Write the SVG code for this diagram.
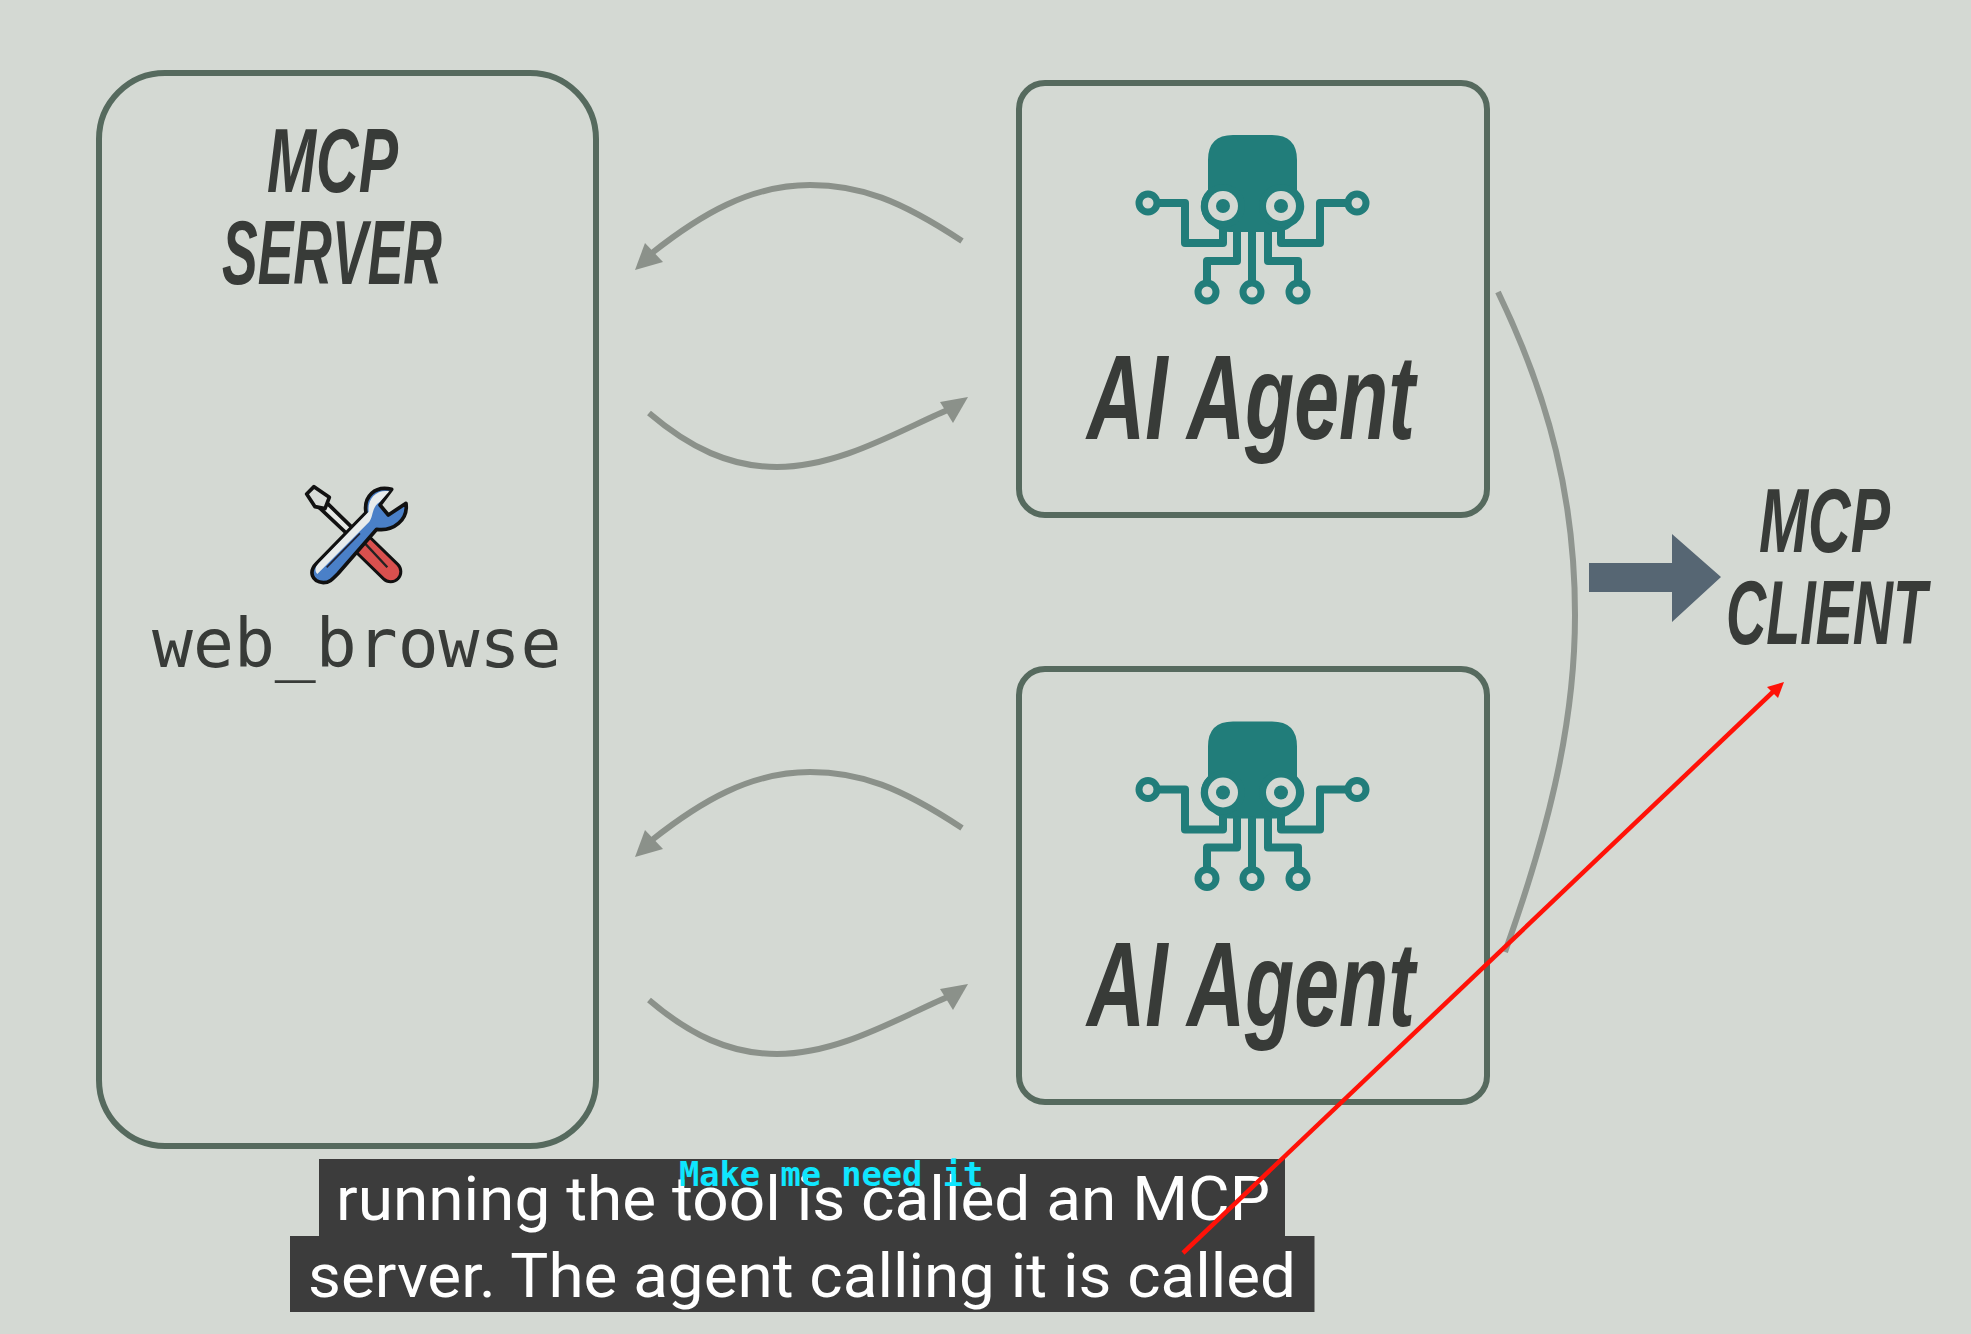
<svg xmlns="http://www.w3.org/2000/svg" xmlns:xlink="http://www.w3.org/1999/xlink" width="1971" height="1334" viewBox="0 0 1971 1334">
<style>
.box{fill:none;stroke:#566a5e;stroke-width:6}
.cond{font-family:"Liberation Sans",Arial,sans-serif;font-weight:700;font-style:italic;fill:#383b38}
.mono{font-family:"DejaVu Sans Mono",monospace;font-size:68px;fill:#383b38}
.flow{fill:none;stroke:#8b918a;stroke-width:6}
.head{fill:#8b918a}
.leg{fill:none;stroke:#217d7a;stroke-width:8;stroke-linejoin:round}
.pad{fill:#d4d9d3;stroke:#217d7a;stroke-width:7}
.cap{fill:#3c3c3c}
.captxt{font-family:Roboto,"Liberation Sans",sans-serif;font-size:62px;fill:#fff}
.sub{font-family:"DejaVu Sans Mono",monospace;font-weight:700;font-size:33.7px;fill:#0fe6ff}
</style>
<defs>
<g id="octopus">
<path d="M1208,160 Q1208,135 1233,135 L1272,135 Q1297,135 1297,160 L1297,190 A22,22 0 0 1 1292,226 Q1285,232 1275,232 L1230,232 Q1220,232 1213,226 A22,22 0 0 1 1208,190 Z" fill="#217d7a"/>
<circle cx="1223" cy="206" r="22" fill="#217d7a"/>
<circle cx="1281" cy="206" r="22" fill="#217d7a"/>
<circle cx="1223" cy="206" r="15" fill="#d4d9d3"/>
<circle cx="1281" cy="206" r="15" fill="#d4d9d3"/>
<circle cx="1223" cy="206" r="7" fill="#217d7a"/>
<circle cx="1281" cy="206" r="7" fill="#217d7a"/>
<path class="leg" d="M1157,203H1185V243H1223V228"/>
<path class="leg" d="M1347,203H1320V243H1281V228"/>
<path class="leg" d="M1207,282V261H1237V230"/>
<path class="leg" d="M1252,282V230"/>
<path class="leg" d="M1298,282V261H1268V230"/>
<circle class="pad" cx="1148" cy="203" r="9"/>
<circle class="pad" cx="1357" cy="203" r="9"/>
<circle class="pad" cx="1207" cy="292" r="9"/>
<circle class="pad" cx="1252" cy="292" r="9"/>
<circle class="pad" cx="1298" cy="292" r="9"/>
</g>
</defs>
<rect width="1971" height="1334" fill="#d4d9d3"/>

<g id="mcp-server">
<rect class="box" x="99" y="73" width="497" height="1073" rx="66"/>
<text class="cond" x="267" y="192" font-size="91" textLength="131" lengthAdjust="spacingAndGlyphs">MCP</text>
<text class="cond" x="222" y="284" font-size="91" textLength="220" lengthAdjust="spacingAndGlyphs">SERVER</text>
<g id="tools-icon" transform="translate(280,470) scale(0.3333)">
<path d="M140,98L222,178L205,195L118,113Z" fill="#e6e9e6" stroke="#111" stroke-width="11" stroke-linejoin="round"/>
<path d="M102,50L148,82L135,116L105,110L80,72Z" fill="#d8dcd8" stroke="#111" stroke-width="11" stroke-linejoin="round"/>
<path d="M250,225L332,305" stroke="#111" stroke-width="70" stroke-linecap="round" fill="none"/>
<path d="M250,225L332,305" stroke="#d9504e" stroke-width="52" stroke-linecap="round" fill="none"/>
<path d="M250,215L322,292" stroke="#222" stroke-width="7" fill="none"/>
<path d="M335,58C285,45 250,80 258,128L110,280C85,305 95,335 130,338C150,338 160,325 175,310L290,178C340,185 385,150 378,100L325,135L300,105Z" fill="#4a80c8" stroke="#111" stroke-width="11" stroke-linejoin="round"/>
<path d="M328,64C290,58 262,85 266,125L116,280C104,292 104,305 112,312L268,155C280,140 275,110 300,95Z" fill="#e8ecec"/>
<path d="M140,292L240,190" stroke="#223" stroke-width="5" fill="none"/>
</g>
<text class="mono" x="152" y="667">web_browse</text>
</g>

<g id="ai-agent-1">
<rect class="box" x="1019" y="83" width="468" height="432" rx="26"/>
<use xlink:href="#octopus" href="#octopus"/>
<text class="cond" x="1087" y="439" font-size="120" textLength="328" lengthAdjust="spacingAndGlyphs">AI Agent</text>
</g>

<g id="ai-agent-2">
<rect class="box" x="1019" y="669" width="468" height="433" rx="26"/>
<use xlink:href="#octopus" href="#octopus" transform="translate(0,586.5)"/>
<text class="cond" x="1087" y="1026" font-size="120" textLength="328" lengthAdjust="spacingAndGlyphs">AI Agent</text>
</g>

<g id="mcp-client">
<text class="cond" x="1759" y="552" font-size="91" textLength="131" lengthAdjust="spacingAndGlyphs">MCP</text>
<text class="cond" x="1726" y="644" font-size="91" textLength="201" lengthAdjust="spacingAndGlyphs">CLIENT</text>
</g>

<g id="connectors">
<path class="flow" d="M962,241C900,200 860,185 810,185C750,185 700,215 652,253"/>
<path class="head" d="M635,270L645,243L663,262Z"/>
<path class="flow" d="M649,413C690,448 730,467 777,467C840,467 900,430 952,408"/>
<path class="head" d="M968,397L940,402L953,423Z"/>
<path class="flow" d="M962,828C900,787 860,772 810,772C750,772 700,802 652,840"/>
<path class="head" d="M635,857L645,830L663,849Z"/>
<path class="flow" d="M649,1000C690,1035 730,1054 777,1054C840,1054 900,1017 952,995"/>
<path class="head" d="M968,984L940,989L953,1010Z"/>
<path d="M1498,292C1550,400 1575,500 1575,615C1575,730 1545,840 1505,952" fill="none" stroke="#8f958f" stroke-width="6"/>
<path d="M1589,563H1672V534L1721,577L1672,622V592H1589Z" fill="#566673"/>
</g>

<g id="caption">
<rect class="cap" x="319" y="1159" width="966" height="77"/>
<rect class="cap" x="290" y="1236" width="1024.500" height="76"/>
<text class="captxt" x="336" y="1220" textLength="934" lengthAdjust="spacingAndGlyphs">running the tool is called an MCP</text>
<text class="captxt" x="308" y="1297" textLength="988" lengthAdjust="spacingAndGlyphs">server. The agent calling it is called</text>
<text class="sub" x="679" y="1186">Make me need it</text>
</g>

<g id="annotation">
<path d="M1183,1253L1776,689" stroke="#ff1208" stroke-width="4.500" fill="none"/>
<path d="M1784,682L1767,687L1778,698Z" fill="#ff1208"/>
</g>
</svg>
